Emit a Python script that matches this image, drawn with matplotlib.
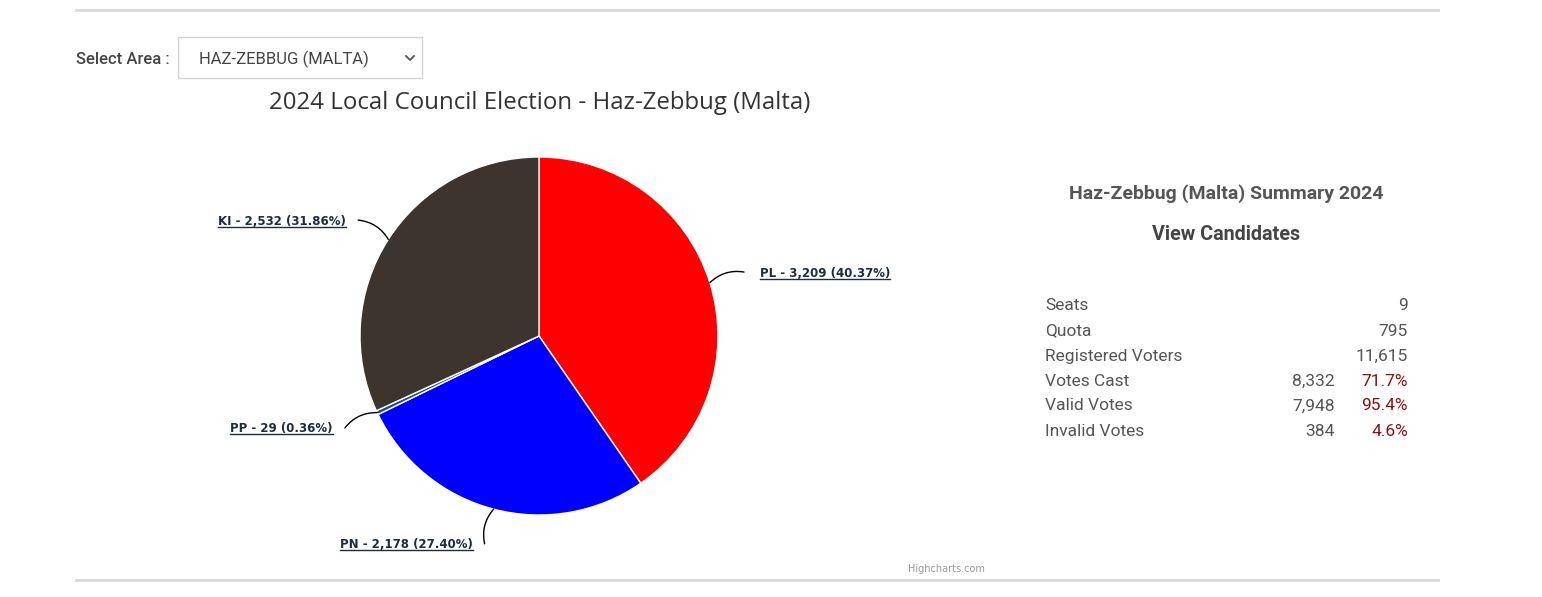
import matplotlib.pyplot as plt
import matplotlib.patches as mpatches
from matplotlib.lines import Line2D
import numpy as np

# chart data
parties = ['PL', 'PN', 'PP', 'KI']
votes = [3209, 2178, 29, 2532]
colors = ['#ff0000', '#0000ff', '#1f4e8c', '#3d342e']

title = '2024 Local Council Election - Haz-Zebbug (Malta)'
area = 'HAZ-ZEBBUG (MALTA)'
summary_title = 'Haz-Zebbug (Malta) Summary 2024'

row_labels = ['Seats', 'Quota', 'Registered Voters', 'Votes Cast', 'Valid Votes', 'Invalid Votes']
row_values = ['9', '795', '11,615', '8,332', '7,948', '384']
row_pcts = ['', '', '', '71.7%', '95.4%', '4.6%']

W, H = 1542, 597
fig = plt.figure(figsize=(W / 100, H / 100), dpi=100)
bg = fig.add_axes([0, 0, 1, 1])
bg.set_xlim(0, W)
bg.set_ylim(H, 0)
bg.axis('off')

# page lines
bg.plot([76, 1438], [10, 10], color='#d9d9d9', lw=2)
bg.plot([76, 1438], [580, 580], color='#d9d9d9', lw=2)

# area selector
bg.text(76, 59, 'Select Area :', fontsize=12, family='Roboto', weight='medium',
        color='#444444', va='center', ha='left')
bg.add_patch(mpatches.Rectangle((178, 37), 244, 41, fill=False, ec='#d4d4d4', lw=1))
bg.text(199, 59, area, fontsize=12, family='Roboto', color='#444444', va='center')
bg.plot([406, 410, 414], [56, 60, 56], color='#555555', lw=1.3)

bg.text(540, 103, title, fontsize=17.3, family='Open Sans', color='#333333',
        ha='center', va='center')

# summary panel
bg.text(1226, 194, summary_title, fontsize=14, family='Roboto', weight='bold',
        color='#555555', ha='center', va='center')
bg.text(1226, 235, 'View Candidates', fontsize=14.2, family='Roboto', weight='bold',
        color='#444444', ha='center', va='center')
for i, (lab, val, pct) in enumerate(zip(row_labels, row_values, row_pcts)):
    y = 306 + 25 * i
    bg.text(1045, y, lab, fontsize=12.5, family='Roboto', color='#555555', va='center')
    if pct:
        bg.text(1335, y, val, fontsize=12.5, family='Roboto', color='#555555', va='center', ha='right')
        bg.text(1408, y, pct, fontsize=12.5, family='Roboto', color='#8b1010', va='center', ha='right')
    else:
        bg.text(1408, y, val, fontsize=12.5, family='Roboto', color='#555555', va='center', ha='right')

bg.text(946, 569, 'Highcharts.com', fontsize=7, family='DejaVu Sans', color='#999999',
        ha='center', va='center')

# pie
cx, cy, r = 539, 336, 179
ax = fig.add_axes([(cx - r) / W, (H - cy - r) / H, 2 * r / W, 2 * r / H])
wedges, _ = ax.pie(votes, colors=colors, startangle=90, counterclock=False,
                   wedgeprops=dict(edgecolor='white', linewidth=1), radius=1)
ax.set_xlim(-1, 1)
ax.set_ylim(-1, 1)
ax.set_aspect('equal')
ax.axis('off')

total = sum(votes)
texts = []
for w, p, v in zip(wedges, parties, votes):
    mid = np.deg2rad((w.theta1 + w.theta2) / 2)
    ex, ey = np.cos(mid), np.sin(mid)
    tx, ty = 1.2 * ex, 1.2 * ey
    right = tx > 0
    ax.annotate('', xy=(ex, ey), xytext=(tx, ty),
                arrowprops=dict(arrowstyle='-', color='black', lw=1,
                                connectionstyle='arc3,rad=%s' % (0.25 if right else -0.25),
                                shrinkA=0, shrinkB=0), annotation_clip=False)
    label = '%s - %s (%.2f%%)' % (p, format(v, ','), 100 * v / total)
    t = ax.annotate(label, xy=(tx, ty), xytext=(16 if right else -12, -1), textcoords='offset pixels',
                    ha='left' if right else 'right', va='center', fontsize=8.5,
                    family='DejaVu Sans', weight='bold', color='#1d2b45', annotation_clip=False)
    texts.append(t)

# underline the data labels
fig.canvas.draw()
rend = fig.canvas.get_renderer()
for t in texts:
    bb = t.get_window_extent(rend)
    fig.add_artist(Line2D([bb.x0 / W, bb.x1 / W], [(bb.y0 + 1) / H, (bb.y0 + 1) / H],
                          color='#1d2b45', lw=1, transform=fig.transFigure))

fig.savefig('out.png', dpi=100, facecolor='white')
